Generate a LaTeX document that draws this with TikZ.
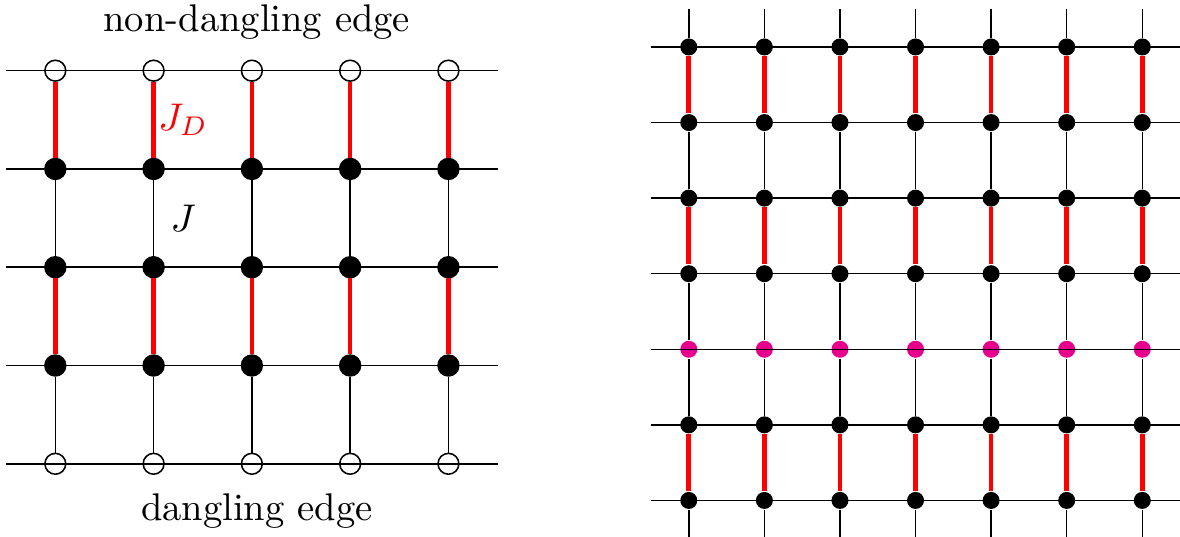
\documentclass[tikz,border=0pt]{standalone}
\definecolor{hotpink}{RGB}{230,0,140}
\begin{document}
\begin{tikzpicture}[
spin/.style={circle, draw=black, fill=black, inner sep=0pt, minimum size=1.9mm},
boundary/.style={circle, draw=black, fill=white, inner sep=0pt, minimum size=1.9mm},
site/.style={circle, fill=black, inner sep=0pt, minimum size=1.55mm},
cut/.style={circle, fill=hotpink, inner sep=0pt, minimum size=1.55mm},
coupling/.style={draw=red, line width=1.2pt},
]
\useasboundingbox (0,0) rectangle (10.75,-4.891);
\begin{scope}[shift={(0.504,-0.644)}, x=0.8953cm, y=-0.8953cm]
\foreach \j/\kind in {0/boundary,1/spin,2/spin,3/spin,4/boundary}
	\foreach \i in {0,...,4}
		\node[\kind] (L-\i-\j) at (\i,\j) {};
\foreach \j in {0,...,4} {
	\coordinate (Lw\j) at (-0.5,\j);
	\coordinate (Le\j) at (4.5,\j);
	\draw (Lw\j) \foreach \i in {0,...,4} {-- (L-\i-\j)} -- (Le\j);
}
\foreach \i in {0,...,4} {
	\draw[coupling] (L-\i-0) -- (L-\i-1);
	\draw (L-\i-1) -- (L-\i-2);
	\draw[coupling] (L-\i-2) -- (L-\i-3);
	\draw (L-\i-3) -- (L-\i-4);
}
\node[red] (JD) at (1.3,0.5) {$J_D$};
\node (J) at (1.3,1.5) {$J$};
\node[anchor=base] (top) at (2.05,-0.397) {non-dangling edge};
\node[anchor=base] (bottom) at (2.05,4.581) {dangling edge};
\end{scope}
\begin{scope}[shift={(6.275,-0.428)}, x=0.6885cm, y=-0.6885cm]
\foreach \j/\kind in {0/site,1/site,2/site,3/site,4/cut,5/site,6/site}
	\foreach \i in {0,...,6}
		\node[\kind] (R-\i-\j) at (\i,\j) {};
\foreach \j in {0,...,6} {
	\coordinate (Rw\j) at (-0.5,\j);
	\coordinate (Re\j) at (6.5,\j);
	\draw (Rw\j) \foreach \i in {0,...,6} {-- (R-\i-\j)} -- (Re\j);
}
\foreach \i in {0,...,6} {
	\coordinate (Rn\i) at (\i,-0.5);
	\coordinate (Rs\i) at (\i,6.5);
	\draw (Rn\i) -- (R-\i-0);
	\draw[coupling] (R-\i-0) -- (R-\i-1);
	\draw (R-\i-1) -- (R-\i-2);
	\draw[coupling] (R-\i-2) -- (R-\i-3);
	\draw (R-\i-3) -- (R-\i-4) -- (R-\i-5);
	\draw[coupling] (R-\i-5) -- (R-\i-6);
	\draw (R-\i-6) -- (Rs\i);
}
\end{scope}
\end{tikzpicture}
\end{document}
